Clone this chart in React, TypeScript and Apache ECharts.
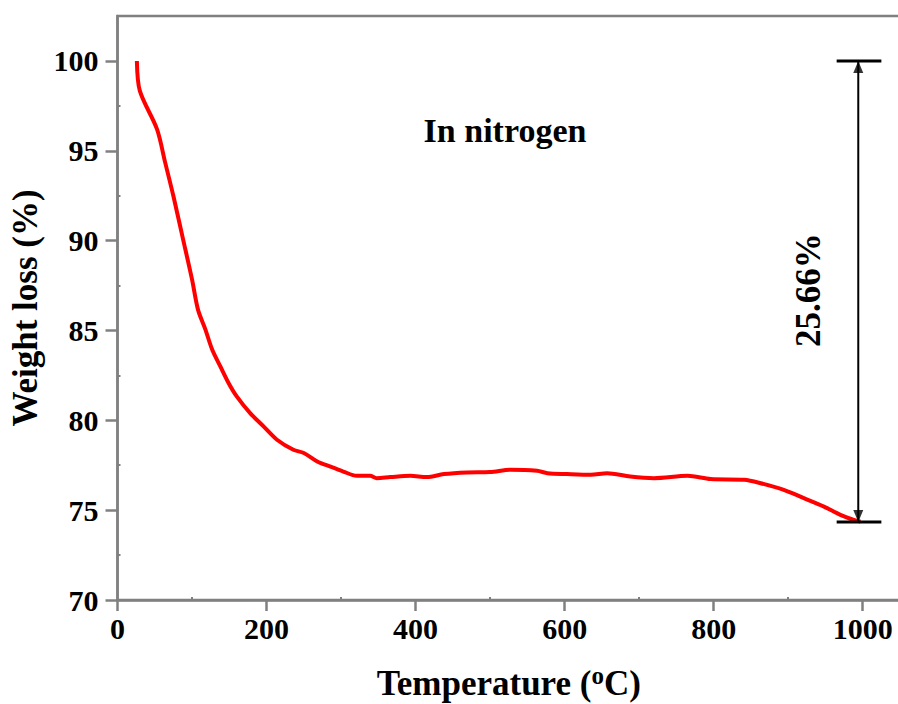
import React, { useEffect, useRef } from "react";
import * as echarts from "echarts";

const temps = [26, 30, 53, 64, 75, 88, 100, 108, 118, 127, 138, 149, 160, 178, 196, 214, 236, 250, 268, 285, 303, 321, 339, 348, 366, 393, 415, 438, 469, 500, 527, 563, 577, 603, 635, 657, 688, 720, 765, 796, 841, 863, 894, 921, 948, 970, 988, 997];
const weights = [100.0, 98.33, 96.2, 94.34, 92.48, 90.07, 87.84, 86.16, 85.05, 83.94, 83.0, 82.08, 81.33, 80.4, 79.66, 78.92, 78.36, 78.18, 77.71, 77.43, 77.15, 76.91, 76.91, 76.78, 76.84, 76.91, 76.84, 77.01, 77.1, 77.12, 77.25, 77.19, 77.06, 77.01, 76.97, 77.06, 76.87, 76.78, 76.91, 76.73, 76.69, 76.5, 76.13, 75.67, 75.2, 74.74, 74.46, 74.36];

const yTicks = [70, 75, 80, 85, 90, 95, 100];
const yMinor = [72.5, 77.5, 82.5, 87.5, 92.5, 97.5];
const xTicks = [0, 200, 400, 600, 800, 1000];
const xMinor = [100, 300, 500, 700, 900];

const startW = 100;
const endW = 74.34;
const lossLabel = "25.66%";
const arrowT = 994;
const barT = [965, 1025];

const FONT = "'Liberation Serif', 'Times New Roman', serif";
const GRAY = "#808080";

export default function App() {
  const ref = useRef<HTMLDivElement>(null);
  useEffect(() => {
    const chart = echarts.init(ref.current!, null, { renderer: "svg" });
    const curve = temps.map((t, i) => [t, weights[i]]);
    chart.setOption({
      animation: false,
      backgroundColor: "#ffffff",
      grid: {
        left: 117.5,
        right: -2,
        top: 16,
        bottom: 104,
        outerBoundsMode: "none",
        containLabel: false,
        show: true,
        borderColor: GRAY,
        borderWidth: 2.5,
      },
      xAxis: [
        {
          type: "value",
          min: 0,
          max: 1050,
          interval: 200,
          name: "{a|Temperature (}{s|o}{a|C)}",
          nameLocation: "middle",
          nameGap: 63,
          nameTextStyle: {
            rich: {
              a: { fontFamily: FONT, fontWeight: "bold", fontSize: 35, color: "#000" },
              s: { fontFamily: FONT, fontWeight: "bold", fontSize: 25, color: "#000", verticalAlign: "top", padding: [0, 0, 16, 0] },
            },
          },
          axisLine: { show: true, lineStyle: { color: GRAY, width: 2.5 } },
          axisTick: { show: true, length: 11, lineStyle: { color: GRAY, width: 2.5 }, customValues: xTicks },
          axisLabel: {
            fontFamily: FONT,
            fontWeight: "bold",
            fontSize: 30,
            color: "#000",
            margin: 13,
            customValues: xTicks,
            formatter: (v: number) => String(v),
          },
          splitLine: { show: false },
        },
        {
          type: "value",
          position: "bottom",
          min: 0,
          max: 1050,
          interval: 100,
          axisLine: { show: false },
          axisTick: { show: true, inside: true, length: 3, lineStyle: { color: GRAY, width: 2 }, customValues: xMinor },
          axisLabel: { show: false },
          splitLine: { show: false },
        },
      ],
      yAxis: [
        {
          type: "value",
          min: 70,
          max: 102.5,
          interval: 5,
          name: "Weight loss (%)",
          nameLocation: "middle",
          nameGap: 70,
          nameTextStyle: { fontFamily: FONT, fontWeight: "bold", fontSize: 35, color: "#000" },
          axisLine: { show: true, lineStyle: { color: GRAY, width: 2.5 } },
          axisTick: { show: true, length: 12, lineStyle: { color: GRAY, width: 2.5 }, customValues: yTicks },
          axisLabel: {
            fontFamily: FONT,
            fontWeight: "bold",
            fontSize: 30,
            color: "#000",
            margin: 19,
            customValues: yTicks,
            formatter: (v: number) => String(v),
          },
          splitLine: { show: false },
        },
        {
          type: "value",
          position: "left",
          min: 70,
          max: 102.5,
          interval: 2.5,
          axisLine: { show: false },
          axisTick: { show: true, inside: true, length: 3, lineStyle: { color: GRAY, width: 2 }, customValues: yMinor },
          axisLabel: { show: false },
          splitLine: { show: false },
        },
      ],
      series: [
        {
          type: "line",
          data: curve,
          showSymbol: false,
          symbol: "none",
          smooth: 0.3,
          lineStyle: { color: "#ff0000", width: 4 },
          z: 3,
        },
        {
          type: "line",
          data: [[barT[0], startW], [barT[1], startW]],
          symbol: "none",
          lineStyle: { color: "#000", width: 3 },
          z: 4,
        },
        {
          type: "line",
          data: [[barT[0], endW], [barT[1], endW]],
          symbol: "none",
          lineStyle: { color: "#000", width: 3 },
          z: 4,
        },
        {
          type: "line",
          data: [[arrowT, startW], [arrowT, endW]],
          symbol: "none",
          lineStyle: { color: "#000", width: 2 },
          z: 4,
        },
        {
          type: "scatter",
          data: [[arrowT, startW]],
          symbol: "triangle",
          symbolSize: [10, 12],
          symbolOffset: [0, 6],
          itemStyle: { color: "#000" },
          z: 5,
        },
        {
          type: "scatter",
          data: [[arrowT, endW]],
          symbol: "triangle",
          symbolRotate: 180,
          symbolSize: [10, 12],
          symbolOffset: [0, -6],
          itemStyle: { color: "#000" },
          z: 5,
        },
      ],
      graphic: [
        {
          type: "text",
          x: 505,
          y: 130,
          style: {
            text: "In nitrogen",
            fontFamily: FONT,
            fontWeight: "bold",
            fontSize: 34,
            fill: "#000",
            align: "center",
            verticalAlign: "middle",
          },
        },
        {
          type: "text",
          x: 808,
          y: 290,
          rotation: Math.PI / 2,
          style: {
            text: lossLabel,
            fontFamily: FONT,
            fontWeight: "bold",
            fontSize: 35,
            fill: "#000",
            align: "center",
            verticalAlign: "middle",
          },
        },
      ],
    });
    return () => chart.dispose();
  }, []);
  return (
    <div
      ref={ref}
      style={{ position: "absolute", left: 0, top: 0, width: 898, height: 704 }}
    />
  );
}
